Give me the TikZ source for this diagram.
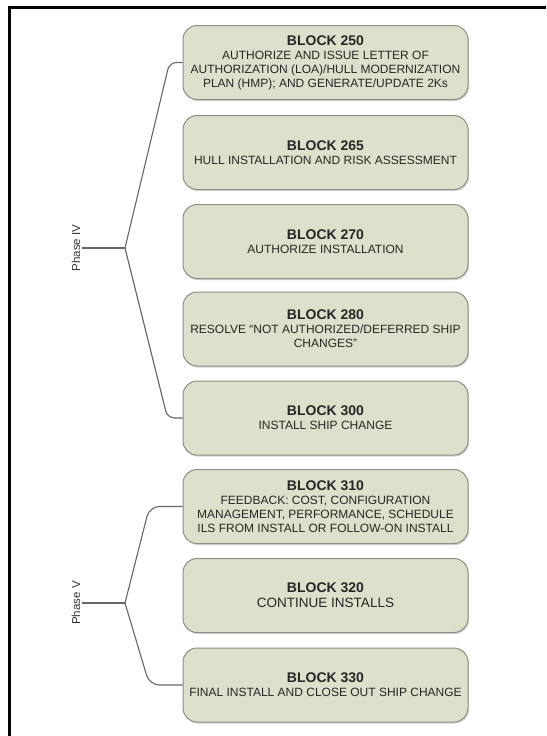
\documentclass[tikz,border=0pt]{standalone}
\usepackage{fontspec}
\setmainfont{Liberation Sans}
\usepackage{tikz}
\usetikzlibrary{
  positioning,
  calc,
  shadows
}
\usepackage{xcolor}
\definecolor{blockfill}{HTML}{DCE1CB}
\definecolor{blockedge}{HTML}{8E8E86}
\definecolor{branch}{HTML}{666666}

\newcommand{\blk}[2]{{\fontsize{14}{16}\selectfont\bfseries #1}\\#2}

\begin{document}
\begin{tikzpicture}[
  x=1pt, y=-1pt,
  block/.style={draw=blockedge, line width=1pt, fill=blockfill, rounded corners=14pt,
                minimum width=285pt, minimum height=74pt, inner sep=1pt,
                align=center, text=black!85, font=\fontsize{12}{14}\selectfont,
                drop shadow={shadow xshift=1pt, shadow yshift=-1.5pt, opacity=0.35}},
  phase/.style={rotate=90, font=\fontsize{11.5}{13}\selectfont, text=black!80, inner sep=2pt},
  br/.style={draw=branch, line width=1.1pt, rounded corners=7pt}
]
  \useasboundingbox (0,0) rectangle (546,736);

  % Frame
  \draw[line width=3pt] (9,736) -- (9,7) -- (546,7);

  % Phase IV blocks
  \node[block] (b250) at (325.5, 62.5)
    {\blk{BLOCK 250}{AUTHORIZE AND ISSUE LETTER OF\\AUTHORIZATION (LOA)/HULL MODERNIZATION\\PLAN (HMP); AND GENERATE/UPDATE 2Ks}};
  \node[block] (b265) at (325.5, 152.5)
    {\blk{BLOCK 265}{HULL INSTALLATION AND RISK ASSESSMENT}};
  \node[block] (b270) at (325.5, 241.5)
    {\blk{BLOCK 270}{AUTHORIZE INSTALLATION}};
  \node[block] (b280) at (325.5, 329)
    {\blk{BLOCK 280}{RESOLVE “NOT AUTHORIZED/DEFERRED SHIP\\CHANGES”}};
  \node[block] (b300) at (325.5, 418)
    {\blk{BLOCK 300}{INSTALL SHIP CHANGE}};

  % Phase V blocks
  \node[block] (b310) at (325.5, 506.5)
    {\blk{BLOCK 310}{FEEDBACK: COST, CONFIGURATION\\MANAGEMENT, PERFORMANCE, SCHEDULE\\ILS FROM INSTALL OR FOLLOW-ON INSTALL}};
  \node[block, font=\fontsize{13.5}{15}\selectfont] (b320) at (325.5, 595.5)
    {\blk{BLOCK 320}{CONTINUE INSTALLS}};
  \node[block] (b330) at (325.5, 685)
    {\blk{BLOCK 330}{FINAL INSTALL AND CLOSE OUT SHIP CHANGE}};

  % Phase labels and branch points
  \node[phase] (ph4) at (76, 248) {Phase IV};
  \coordinate (j4) at (125, 248);
  \node[phase] (ph5) at (76, 603) {Phase V};
  \coordinate (j5) at (125, 603);

  % Brackets
  \draw[br] (ph4.south) -- (j4);
  \draw[br] (j4) -- ([xshift=-13pt]b250.west) -- (b250.west);
  \draw[br] (j4) -- ([xshift=-15pt]b300.west) -- (b300.west);
  \draw[br] (ph5.south) -- (j5);
  \draw[br, rounded corners=10pt] (j5) -- ([xshift=-33pt]b310.west) -- (b310.west);
  \draw[br, rounded corners=10pt] (j5) -- ([xshift=-33pt]b330.west) -- (b330.west);
\end{tikzpicture}
\end{document}
